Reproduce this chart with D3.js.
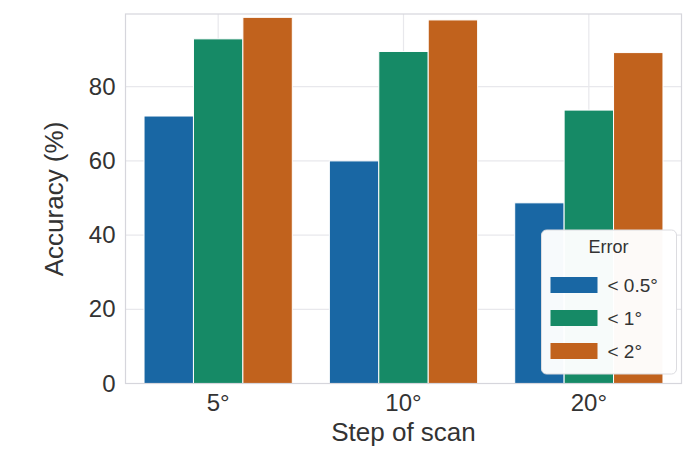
<!DOCTYPE html>
<html>
<head>
<meta charset="utf-8">
<script src="https://cdn.jsdelivr.net/npm/d3@7"></script>
<style>
  html, body { margin: 0; padding: 0; background: #fff; }
  svg { display: block; font-family: "Liberation Sans", Arial, sans-serif; }
</style>
</head>
<body>
<svg id="chart" width="699" height="456"></svg>
<script>
// Scan step categories and accuracy per error threshold
const steps = ["5°", "10°", "20°"];
const errorLevels = ["< 0.5°", "< 1°", "< 2°"];
const accHalfDeg = [72.1, 60.0, 48.7];
const accOneDeg = [92.9, 89.5, 73.7];
const accTwoDeg = [98.7, 98.0, 89.2];
const yTicks = [0, 20, 40, 60, 80];
const colors = ["#1967a4", "#168a66", "#c1621d"];

const seriesValues = [accHalfDeg, accOneDeg, accTwoDeg];
const rows = [];
steps.forEach((s, i) => {
  errorLevels.forEach((e, j) => rows.push({ step: s, level: e, value: seriesValues[j][i] }));
});

const W = 699, H = 456;
const margin = { left: 125.5, right: 17.5, top: 14, bottom: 72.5 };
const iw = W - margin.left - margin.right;
const ih = H - margin.top - margin.bottom;

const svg = d3.select("#chart");
const g = svg.append("g").attr("transform", `translate(${margin.left},${margin.top})`);

const x = d3.scaleBand().domain(steps).range([0, iw]).paddingInner(0).paddingOuter(0);
const inner = d3.scaleBand().domain(errorLevels).range([0, x.bandwidth() * 0.8]);
const y = d3.scaleLinear().domain([0, 99.6]).range([ih, 0]);
const color = d3.scaleOrdinal().domain(errorLevels).range(colors);

// grid
g.append("g").selectAll("line.h").data(yTicks).join("line")
  .attr("x1", 0).attr("x2", iw)
  .attr("y1", d => y(d)).attr("y2", d => y(d))
  .attr("stroke", "#e8e8ec").attr("stroke-width", 1.2);
g.append("g").selectAll("line.v").data(steps).join("line")
  .attr("x1", d => x(d) + x.bandwidth() / 2).attr("x2", d => x(d) + x.bandwidth() / 2)
  .attr("y1", 0).attr("y2", ih)
  .attr("stroke", "#e8e8ec").attr("stroke-width", 1.2);

// bars
g.append("g").selectAll("rect").data(rows).join("rect")
  .attr("x", d => x(d.step) + x.bandwidth() * 0.1 + inner(d.level))
  .attr("width", inner.bandwidth())
  .attr("y", d => y(d.value))
  .attr("height", d => ih - y(d.value))
  .attr("fill", d => color(d.level))
  .attr("stroke", "#ffffff").attr("stroke-width", 1);

// frame
g.append("rect").attr("x", 0).attr("y", 0).attr("width", iw).attr("height", ih)
  .attr("fill", "none").attr("stroke", "#d6d6dc").attr("stroke-width", 1.2);

// axes
const yAxis = g.append("g").call(d3.axisLeft(y).tickValues(yTicks).tickSize(0).tickPadding(10));
yAxis.select(".domain").remove();
yAxis.selectAll("text").attr("font-size", 24).attr("fill", "#333").attr("font-family", "Liberation Sans, Arial, sans-serif");

const xAxis = g.append("g").attr("transform", `translate(0,${ih})`)
  .call(d3.axisBottom(x).tickSize(0).tickPadding(10));
xAxis.select(".domain").remove();
xAxis.selectAll("text").attr("font-size", 24).attr("fill", "#333").attr("font-family", "Liberation Sans, Arial, sans-serif");

svg.append("text").attr("x", margin.left + iw / 2).attr("y", 441)
  .attr("text-anchor", "middle").attr("font-size", 26).attr("fill", "#333")
  .text("Step of scan");
svg.append("text").attr("transform", "translate(63,199) rotate(-90)")
  .attr("text-anchor", "middle").attr("font-size", 26).attr("fill", "#333")
  .text("Accuracy (%)");

// legend
const lg = svg.append("g").attr("transform", "translate(541.5,230)");
lg.append("rect").attr("width", 135).attr("height", 144).attr("rx", 5)
  .attr("fill", "#ffffff").attr("fill-opacity", 0.97).attr("stroke", "#dcdce0");
lg.append("text").attr("x", 67).attr("y", 23).attr("text-anchor", "middle")
  .attr("font-size", 18).attr("fill", "#333").text("Error");
const items = lg.selectAll("g.item").data(errorLevels).join("g")
  .attr("transform", (d, i) => `translate(9,${47 + i * 33})`);
items.append("rect").attr("width", 47).attr("height", 16).attr("fill", d => color(d));
items.append("text").attr("x", 57).attr("y", 8).attr("dy", "0.35em")
  .attr("font-size", 19).attr("fill", "#333").text(d => d);
</script>
</body>
</html>
